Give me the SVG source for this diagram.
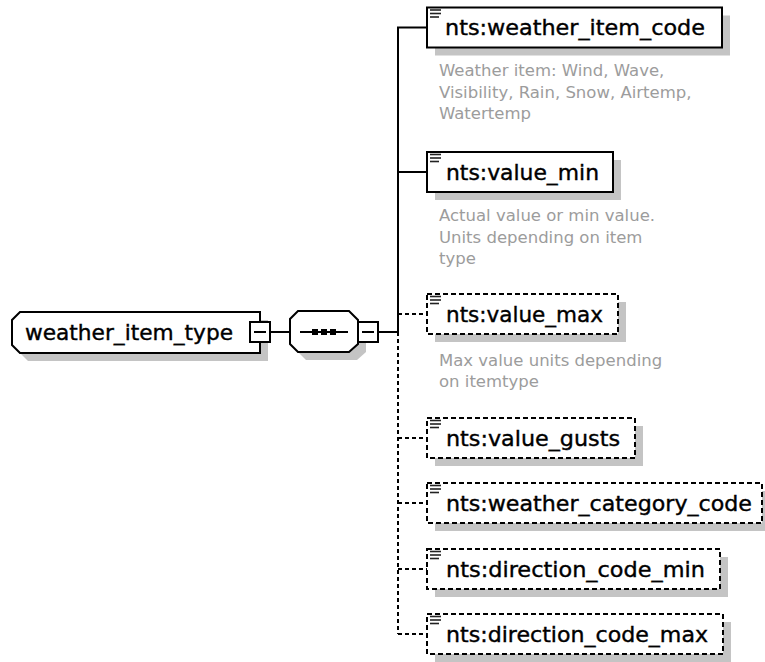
<svg xmlns="http://www.w3.org/2000/svg" xmlns:xlink="http://www.w3.org/1999/xlink" width="765" height="662" viewBox="0 0 765 662">
<style>
  .bg{fill:#ffffff}
  .shadow{fill:#c4c4c4;stroke:none}
  .box{fill:#ffffff;stroke:#000000;stroke-width:2}
  .opt{fill:#ffffff;stroke:#000000;stroke-width:2;stroke-dasharray:5 3}
  .line{fill:none;stroke:#000000;stroke-width:2}
  .dline{fill:none;stroke:#000000;stroke-width:2;stroke-dasharray:4 3}
  .name{font-family:"DejaVu Sans","Liberation Sans",sans-serif;font-size:22px;fill:#000000;stroke:#000000;stroke-width:0.4}
  .desc{font-family:"DejaVu Sans","Liberation Sans",sans-serif;font-size:16.5px;fill:#9c9c9c}
  .ico{stroke:#222222;stroke-width:1.6}
</style>
<defs>
  <g id="ico">
    <line class="ico" x1="3" y1="2.5" x2="14" y2="2.5"/>
    <line class="ico" x1="3" y1="6" x2="14" y2="6"/>
    <line class="ico" x1="3" y1="9.5" x2="12" y2="9.5"/>
  </g>
</defs>
<rect class="bg" x="0" y="0" width="765" height="662"/>

<g id="connectors">
  <line class="line" x1="270" y1="332" x2="290" y2="332"/>
  <line class="line" x1="378" y1="332" x2="398" y2="332"/>
  <line class="line" x1="398" y1="27.5" x2="398" y2="332"/>
  <line class="dline" x1="398" y1="332" x2="398" y2="634"/>
  <line class="line" x1="397" y1="27.5" x2="427" y2="27.5"/>
  <line class="line" x1="397" y1="172" x2="427" y2="172"/>
  <line class="dline" x1="398" y1="314" x2="427" y2="314"/>
  <line class="dline" x1="398" y1="438" x2="427" y2="438"/>
  <line class="dline" x1="398" y1="503" x2="427" y2="503"/>
  <line class="dline" x1="398" y1="569" x2="427" y2="569"/>
  <line class="dline" x1="398" y1="634" x2="427" y2="634"/>
</g>

<g id="node-weather_item_type">
  <polygon class="shadow" points="28,320 268,320 268,361 28,361 20,353 20,328"/>
  <polygon class="box" points="20,312 260,312 260,353 20,353 12,345 12,320"/>
  <text class="name" x="25" y="340" textLength="208" lengthAdjust="spacingAndGlyphs">weather_item_type</text>
  <rect class="box" x="250" y="322" width="20" height="20"/>
  <line class="line" x1="254" y1="332" x2="266" y2="332"/>
</g>

<g id="node-sequence">
  <polygon class="shadow" points="306,319 357,319 366,328 366,352 357,360 306,360 298,352 298,327"/>
  <polygon class="box" points="298,311 349,311 358,320 358,344 349,352 298,352 290,344 290,319"/>
  <line class="line" x1="300" y1="332" x2="348" y2="332"/>
  <rect x="312" y="329" width="6" height="6" fill="#000"/>
  <rect x="321" y="329" width="6" height="6" fill="#000"/>
  <rect x="330" y="329" width="6" height="6" fill="#000"/>
  <rect class="box" x="358" y="322" width="20" height="20"/>
  <line class="line" x1="362" y1="332" x2="374" y2="332"/>
</g>

<g id="node-weather_item_code">
  <rect class="shadow" x="435" y="15.5" width="295" height="40"/>
  <rect class="box" x="427" y="7.5" width="295" height="40"/>
  <use xlink:href="#ico" x="427" y="7.5"/>
  <text class="name" x="445" y="35" textLength="260" lengthAdjust="spacingAndGlyphs">nts:weather_item_code</text>
  <text class="desc" x="439" y="76">Weather item: Wind, Wave,</text>
  <text class="desc" x="439" y="97.5">Visibility, Rain, Snow, Airtemp,</text>
  <text class="desc" x="439" y="119">Watertemp</text>
</g>

<g id="node-value_min">
  <rect class="shadow" x="435" y="160" width="186" height="40"/>
  <rect class="box" x="427" y="152" width="186" height="40"/>
  <use xlink:href="#ico" x="427" y="152"/>
  <text class="name" x="446" y="179.5" textLength="153" lengthAdjust="spacingAndGlyphs">nts:value_min</text>
  <text class="desc" x="439" y="221">Actual value or min value.</text>
  <text class="desc" x="439" y="242.5">Units depending on item</text>
  <text class="desc" x="439" y="264">type</text>
</g>

<g id="node-value_max">
  <rect class="shadow" x="435" y="302" width="191" height="40"/>
  <rect class="opt" x="427" y="294" width="191" height="40"/>
  <use xlink:href="#ico" x="427" y="294"/>
  <text class="name" x="446" y="321.5" textLength="157" lengthAdjust="spacingAndGlyphs">nts:value_max</text>
  <text class="desc" x="439" y="365.5">Max value units depending</text>
  <text class="desc" x="439" y="387">on itemtype</text>
</g>

<g id="node-value_gusts">
  <rect class="shadow" x="435" y="426" width="208" height="40"/>
  <rect class="opt" x="427" y="418" width="208" height="40"/>
  <use xlink:href="#ico" x="427" y="418"/>
  <text class="name" x="446" y="445.5" textLength="174" lengthAdjust="spacingAndGlyphs">nts:value_gusts</text>
</g>

<g id="node-weather_category_code">
  <rect class="shadow" x="435" y="491" width="335" height="40"/>
  <rect class="opt" x="427" y="483" width="335" height="40"/>
  <use xlink:href="#ico" x="427" y="483"/>
  <text class="name" x="446" y="510.5" textLength="306" lengthAdjust="spacingAndGlyphs">nts:weather_category_code</text>
</g>

<g id="node-direction_code_min">
  <rect class="shadow" x="435" y="557" width="293" height="40"/>
  <rect class="opt" x="427" y="549" width="293" height="40"/>
  <use xlink:href="#ico" x="427" y="549"/>
  <text class="name" x="446" y="576.5" textLength="259" lengthAdjust="spacingAndGlyphs">nts:direction_code_min</text>
</g>

<g id="node-direction_code_max">
  <rect class="shadow" x="435" y="622" width="296" height="40"/>
  <rect class="opt" x="427" y="614" width="296" height="40"/>
  <use xlink:href="#ico" x="427" y="614"/>
  <text class="name" x="446" y="641.5" textLength="262" lengthAdjust="spacingAndGlyphs">nts:direction_code_max</text>
</g>
</svg>
